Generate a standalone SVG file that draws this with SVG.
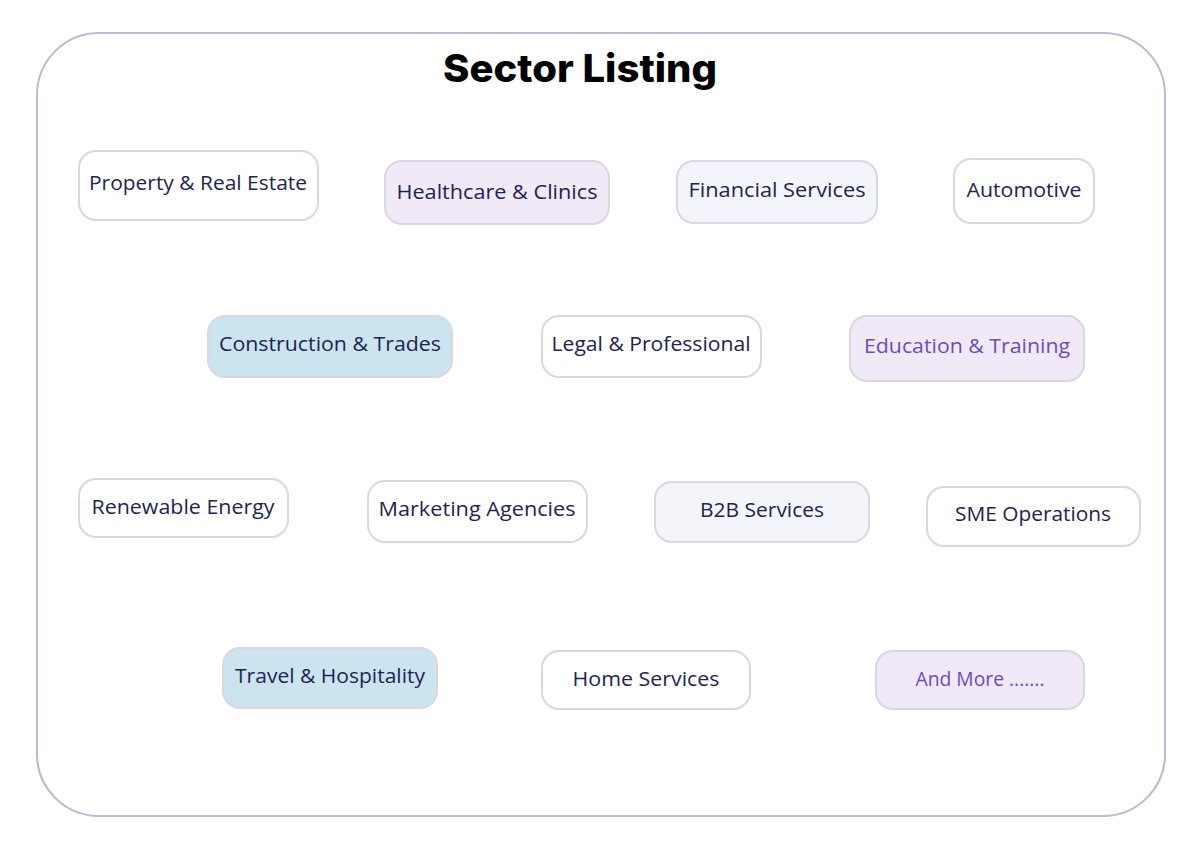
<svg xmlns="http://www.w3.org/2000/svg" width="1200" height="851" viewBox="0 0 1200 851">
<style>
.n{stroke:#d8d8e2;stroke-width:2}
.w{fill:#ffffff}
.p{fill:#f1e9f8}
.g{fill:#f3f5fa}
.b{fill:#cbe4f0}
.t{font-family:"Open Sans","Liberation Sans",sans-serif;font-size:19.5px;fill:#1f2350;text-anchor:middle}
.tp{fill:#6a4cc0}
</style>
<rect x="0" y="0" width="1200" height="851" fill="#ffffff"/>
<rect id="frame" x="37" y="33" width="1128" height="783" rx="62" fill="#ffffff" stroke="#bbb9d5" stroke-width="2"/>
<text id="title" x="580" y="82" font-family="Inter,'Liberation Sans',sans-serif" font-size="38" font-weight="800" fill="#000" text-anchor="middle" textLength="274" lengthAdjust="spacingAndGlyphs">Sector Listing</text>
<g id="connectors"></g>
<g id="n1"><rect class="n w" x="79" y="151" width="239" height="69" rx="17"/><text class="t" x="198" y="190" textLength="218" lengthAdjust="spacingAndGlyphs">Property &amp; Real Estate</text></g>
<g id="n2"><rect class="n p" x="385" y="161" width="224" height="63" rx="17"/><text class="t" x="497" y="199" textLength="201" lengthAdjust="spacingAndGlyphs">Healthcare &amp; Clinics</text></g>
<g id="n3"><rect class="n g" x="677" y="161" width="200" height="62" rx="17"/><text class="t" x="777" y="197" textLength="177" lengthAdjust="spacingAndGlyphs">Financial Services</text></g>
<g id="n4"><rect class="n w" x="954" y="159" width="140" height="64" rx="17"/><text class="t" x="1024" y="197" textLength="115" lengthAdjust="spacingAndGlyphs">Automotive</text></g>
<g id="n5"><rect class="n b" x="208" y="316" width="244" height="61" rx="17"/><text class="t" x="330" y="351" textLength="222" lengthAdjust="spacingAndGlyphs">Construction &amp; Trades</text></g>
<g id="n6"><rect class="n w" x="542" y="316" width="219" height="61" rx="17"/><text class="t" x="651" y="351" textLength="199" lengthAdjust="spacingAndGlyphs">Legal &amp; Professional</text></g>
<g id="n7"><rect class="n p" x="850" y="316" width="234" height="65" rx="17"/><text class="t tp" x="967" y="353" textLength="206" lengthAdjust="spacingAndGlyphs">Education &amp; Training</text></g>
<g id="n8"><rect class="n w" x="79" y="479" width="209" height="58" rx="17"/><text class="t" x="183" y="514" textLength="183" lengthAdjust="spacingAndGlyphs">Renewable Energy</text></g>
<g id="n9"><rect class="n w" x="368" y="481" width="219" height="61" rx="17"/><text class="t" x="477" y="516" textLength="197" lengthAdjust="spacingAndGlyphs">Marketing Agencies</text></g>
<g id="n10"><rect class="n g" x="655" y="482" width="214" height="60" rx="17"/><text class="t" x="762" y="517" textLength="124" lengthAdjust="spacingAndGlyphs">B2B Services</text></g>
<g id="n11"><rect class="n w" x="927" y="487" width="213" height="59" rx="17"/><text class="t" x="1033" y="521" textLength="156" lengthAdjust="spacingAndGlyphs">SME Operations</text></g>
<g id="n12"><rect class="n b" x="223" y="648" width="214" height="60" rx="17"/><text class="t" x="330" y="683" textLength="190" lengthAdjust="spacingAndGlyphs">Travel &amp; Hospitality</text></g>
<g id="n13"><rect class="n w" x="542" y="651" width="208" height="58" rx="17"/><text class="t" x="646" y="686" textLength="147" lengthAdjust="spacingAndGlyphs">Home Services</text></g>
<g id="n14"><rect class="n p" x="876" y="651" width="208" height="58" rx="17"/><text class="t tp" x="980" y="686" textLength="129" lengthAdjust="spacingAndGlyphs">And More .......</text></g>
</svg>
